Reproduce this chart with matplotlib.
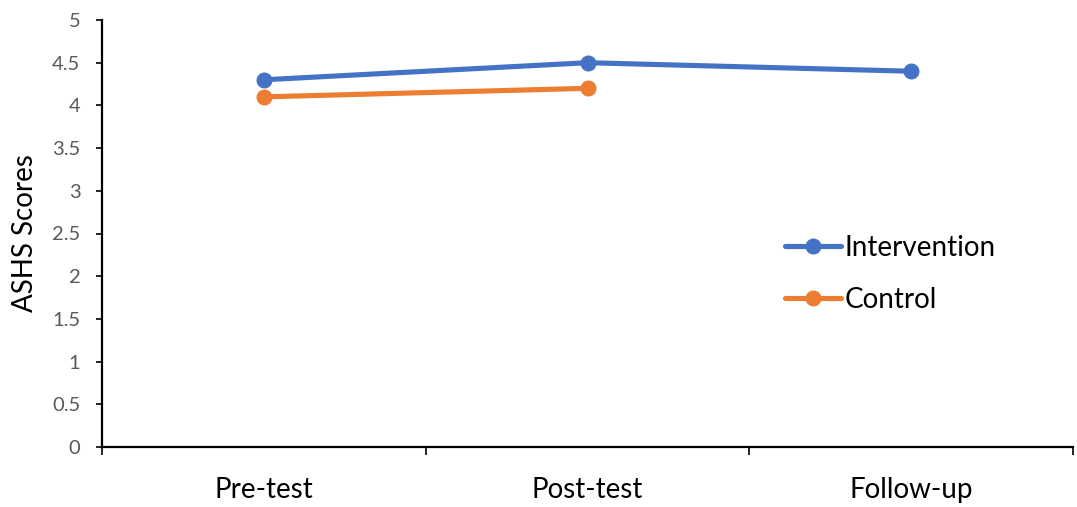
import matplotlib
matplotlib.use("Agg")
import matplotlib.pyplot as plt

# Scores per assessment phase
phases = ["Pre-test", "Post-test", "Follow-up"]
intervention = [4.3, 4.5, 4.4]
control = [4.1, 4.2]
y_ticks = [0, 0.5, 1, 1.5, 2, 2.5, 3, 3.5, 4, 4.5, 5]
y_tick_labels = ["0", "0.5", "1", "1.5", "2", "2.5", "3", "3.5", "4", "4.5", "5"]

plt.rcParams["font.family"] = ["Lato", "DejaVu Sans"]

W, H = 1077, 507
fig = plt.figure(figsize=(W / 100, H / 100), dpi=100)
ax = fig.add_axes([102 / W, 1 - 447 / H, (1073 - 102) / W, (447 - 20) / H])

xpos = [i + 0.5 for i in range(len(phases))]

blue = "#4472C4"
orange = "#ED7D31"
ax.plot(xpos[:len(intervention)], intervention, color=blue, lw=3.7,
        marker="o", markersize=10.5, solid_capstyle="round", label="Intervention")
ax.plot(xpos[:len(control)], control, color=orange, lw=3.7,
        marker="o", markersize=10.5, solid_capstyle="round", label="Control")

ax.set_xlim(0, len(phases))
ax.set_ylim(0, 5)

# Y axis
ax.set_yticks(y_ticks)
ax.set_yticklabels(y_tick_labels)
ax.tick_params(axis="y", direction="out", length=4.5, width=1.2, color="black",
               labelsize=14.5, labelcolor="#595959", pad=11)
ax.set_ylabel("ASHS Scores", fontsize=20, color="black", labelpad=10)

# X axis: boundary ticks, labels centred in each category
ax.set_xticks(range(len(phases) + 1))
ax.set_xticklabels([])
ax.set_xticks(xpos, minor=True)
ax.set_xticklabels(phases, minor=True)
ax.tick_params(axis="x", which="major", direction="out", length=6, width=1.2,
               color="black")
ax.tick_params(axis="x", which="minor", length=0, labelsize=20, pad=21.5,
               labelcolor="black")

for side in ["top", "right"]:
    ax.spines[side].set_visible(False)
for side in ["left", "bottom"]:
    ax.spines[side].set_linewidth(1.6)
    ax.spines[side].set_color("black")

leg = ax.legend(loc="center left", bbox_to_anchor=(785 / W, 1 - 274 / H),
                bbox_transform=fig.transFigure, frameon=False, fontsize=20,
                handlelength=2.0, handletextpad=0.15, labelspacing=0.95,
                borderpad=0, borderaxespad=0)

fig.savefig("out.png", dpi=100, facecolor="white")
